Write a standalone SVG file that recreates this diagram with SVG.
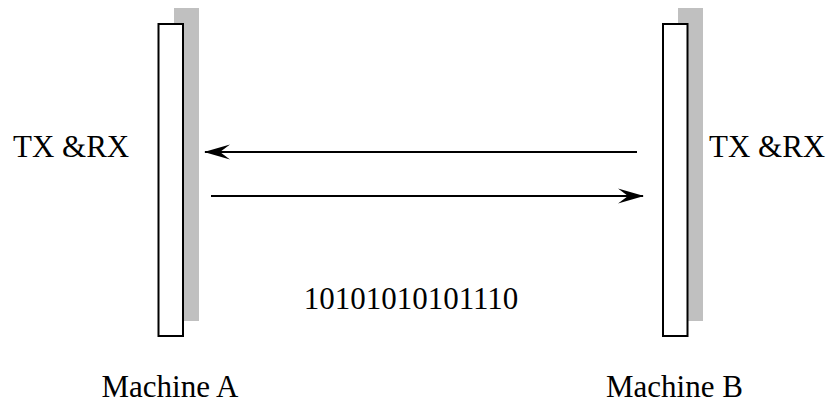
<svg xmlns="http://www.w3.org/2000/svg" width="831" height="404" viewBox="0 0 831 404">
  <style>
    .shadow { fill: #c0c0c0; stroke: none; }
    .bar { fill: #ffffff; stroke: #000000; stroke-width: 2; }
    .link { stroke: #000000; stroke-width: 2; fill: none; }
    .label { font-family: "Liberation Serif", "Times New Roman", serif; font-size: 31px; fill: #000000; }
  </style>
  <defs>
    <marker id="head" viewBox="0 0 26 16" refX="25" refY="8" markerWidth="26" markerHeight="16" markerUnits="userSpaceOnUse" orient="auto">
      <path d="M0,0.5 L26,8 L0,15.5 L10,8 Z" fill="#000000"/>
    </marker>
  </defs>
  <rect width="831" height="404" fill="#ffffff"/>

  <g id="machine-a">
    <rect class="shadow" x="174" y="8" width="25" height="313"/>
    <rect class="bar" x="158.5" y="24" width="24.5" height="312"/>
    <text class="label" x="13" y="157">TX &amp;RX</text>
    <text class="label" x="101.5" y="397">Machine A</text>
  </g>

  <g id="machine-b">
    <rect class="shadow" x="678" y="8" width="25" height="313"/>
    <rect class="bar" x="663" y="24" width="24.5" height="312"/>
    <text class="label" x="709" y="157">TX &amp;RX</text>
    <text class="label" x="606" y="397">Machine B</text>
  </g>

  <g id="connectors">
    <line class="link" x1="637" y1="152" x2="205" y2="152" marker-end="url(#head)"/>
    <line class="link" x1="211" y1="196" x2="643" y2="196" marker-end="url(#head)"/>
  </g>

  <text class="label" x="411" y="309" text-anchor="middle">10101010101110</text>
</svg>
